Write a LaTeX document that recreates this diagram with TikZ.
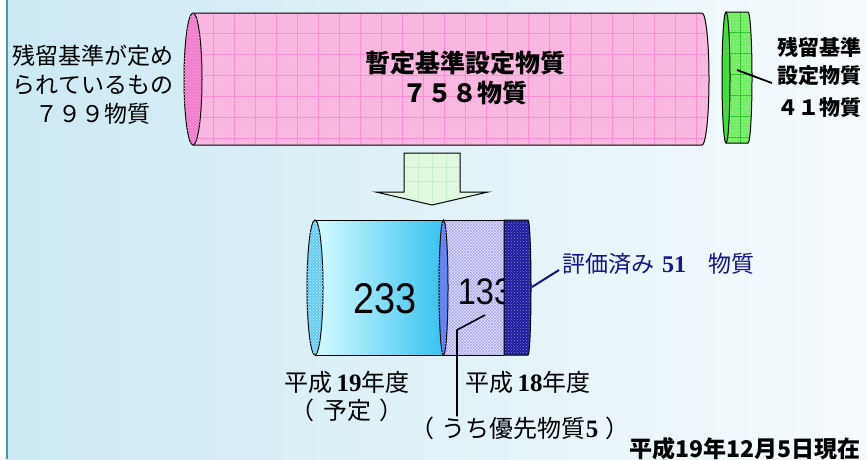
\documentclass[tikz,border=0pt]{standalone}
\usepackage{fontspec}
\usetikzlibrary{patterns}
\newfontfamily\jp{Noto Sans CJK JP}
\newfontfamily\arialf{Liberation Sans}
\newfontfamily\tnr{Liberation Serif}
\definecolor{bgL}{HTML}{CCE9F3}
\definecolor{bgR}{HTML}{F6FBFD}
\definecolor{pinkF}{HTML}{F8B4DE}
\definecolor{pinkG}{HTML}{FF6EC8}
\definecolor{pinkE}{HTML}{F27CCB}
\definecolor{grnF}{HTML}{6CEE5C}
\definecolor{grnG}{HTML}{2DC82D}
\definecolor{grnE}{HTML}{45DD3A}
\definecolor{arrF}{HTML}{DFF8DF}
\definecolor{arrG}{HTML}{C6EEC6}
\definecolor{cyL}{HTML}{D6FBFF}
\definecolor{cyR}{HTML}{38C3F0}
\definecolor{cyE}{HTML}{66CCF2}
\definecolor{blE}{HTML}{5B7DF0}
\definecolor{lavF}{HTML}{EAEAFF}
\definecolor{lavP}{HTML}{A0A0FA}
\definecolor{navF}{HTML}{1C1C9E}
\definecolor{navT}{HTML}{14148C}
\definecolor{edgeC}{HTML}{4A98A6}
\tikzset{
  jpreg/.style={font=\jp\fontsize{23pt}{29pt}\selectfont, align=center, inner sep=0pt},
  jpbold/.style={font=\jp\bfseries\fontsize{25pt}{30pt}\selectfont, align=center, inner sep=0pt},
  jpgreen/.style={font=\jp\bfseries\fontsize{21pt}{28pt}\selectfont, align=center, inner sep=0pt},
  jplbl/.style={font=\jp\fontsize{24pt}{24pt}\selectfont, inner sep=0pt},
  jpblue/.style={font=\jp\fontsize{23pt}{23pt}\selectfont, text=navT, inner sep=0pt},
  jpdate/.style={font=\jp\bfseries\fontsize{23pt}{23pt}\selectfont, inner sep=0pt},
  bignum/.style={font=\arialf\fontsize{#1}{#1}\selectfont, inner sep=0pt},
  outline/.style={draw=black, line width=1pt},
  leader/.style={draw=black, line width=1.6pt},
}
\begin{document}
\begin{tikzpicture}[x=1pt,y=-1pt]
\useasboundingbox (0,0) rectangle (867,459);
\fill[white] (0,0) rectangle (867,459);
\shade[left color=bgL, right color=bgR] (7,0) rectangle (867,459);
\draw[edgeC, line width=2pt] (7,0) -- (7,459);

% ---------- pink cylinder ----------
\path[fill=pinkF, postaction={pattern=crosshatch dots, pattern color=pinkG!35}]
  (193,13) -- (702,13) arc[start angle=90,end angle=-90,x radius=7pt,y radius=66pt] -- (193,145) -- cycle;
\begin{scope}
  \clip (193,13) -- (702,13) arc[start angle=90,end angle=-90,x radius=7pt,y radius=66pt] -- (193,145) -- cycle;
  \foreach \x in {213,234,...,712} \draw[pinkG!80, line width=0.6pt] (\x,13) -- (\x,145);
  \foreach \y in {33,54,...,145} \draw[pinkG!80, line width=0.6pt] (193,\y) -- (712,\y);
\end{scope}
\draw[outline] (193,13) -- (702,13) arc[start angle=90,end angle=-90,x radius=7pt,y radius=66pt] -- (193,145);
\draw[outline, fill=pinkE, postaction={pattern=crosshatch dots, pattern color=pinkF}] (193,79) ellipse[x radius=9pt, y radius=66pt];

% ---------- green disk ----------
\path[fill=grnF, postaction={pattern=crosshatch dots, pattern color=white!60!grnF}]
  (726,12) -- (748,12) arc[start angle=90,end angle=-90,x radius=4pt,y radius=65.5pt] -- (726,143) -- cycle;
\begin{scope}
  \clip (726,12) -- (748,12) arc[start angle=90,end angle=-90,x radius=4pt,y radius=65.5pt] -- (726,143) -- cycle;
  \draw[grnG, line width=0.6pt] (740,12) -- (740,143);
  \foreach \y in {32,53,...,143} \draw[grnG, line width=0.6pt] (722,\y) -- (752,\y);
\end{scope}
\draw[outline] (726,12) -- (748,12) arc[start angle=90,end angle=-90,x radius=4pt,y radius=65.5pt] -- (726,143);
\draw[outline, fill=grnE] (726,77.5) ellipse[x radius=4pt, y radius=65.5pt];

% ---------- arrow ----------
\path[fill=arrF] (404,153) -- (460,153) -- (460,192) -- (488,192) -- (432,205) -- (376,192) -- (404,192) -- cycle;
\begin{scope}
  \clip (404,153) -- (460,153) -- (460,192) -- (488,192) -- (432,205) -- (376,192) -- (404,192) -- cycle;
  \foreach \x in {418,432,446} \draw[arrG, line width=0.5pt] (\x,150) -- (\x,206);
  \foreach \y in {167,181} \draw[arrG, line width=0.5pt] (376,\y) -- (488,\y);
\end{scope}
\draw[outline] (404,153) -- (460,153) -- (460,192) -- (488,192) -- (432,205) -- (376,192) -- (404,192) -- cycle;

% ---------- bottom cylinder ----------
\path[fill=lavF, postaction={pattern=crosshatch, pattern color=lavP}] (443.5,220) rectangle (504,355);
\draw[outline] (443.5,220) -- (504,220) (443.5,355) -- (504,355);
\node[bignum=37pt] (n133) at (485,292) {\scalebox{0.88}[1]{133}};
\path[fill=navF, postaction={pattern=crosshatch dots, pattern color=white!50!navF}]
  (504,220) -- (528,220) arc[start angle=90,end angle=-90,x radius=3pt,y radius=67.5pt] -- (504,355) -- cycle;
\draw[outline] (504,220) -- (528,220) arc[start angle=90,end angle=-90,x radius=3pt,y radius=67.5pt] -- (504,355) -- cycle;
\shade[left color=cyL, right color=cyR] (315,220) rectangle (443.5,355);
\draw[outline] (315,220) -- (443.5,220) (315,355) -- (443.5,355);
\draw[outline, fill=cyE, postaction={pattern=crosshatch dots, pattern color=white!70!cyE}] (315,287.5) ellipse[x radius=8pt, y radius=67.5pt];
\draw[outline, fill=blE, postaction={pattern=crosshatch dots, pattern color=white!40!blE}] (443.5,287.5) ellipse[x radius=4.5pt, y radius=67.5pt];
\node[bignum=43pt] (n233) at (385,299) {\scalebox{0.88}[1]{233}};

% ---------- texts ----------
\node[jpreg] (have) at (93,85) {残留基準が定め\\られているもの\\７９９物質};
\node[jpbold] (zantei) at (465,78) {暫定基準設定物質\\７５８物質};
\node[jpgreen] (zanryu) at (819,77) {残留基準\\設定物質\\[4pt]４１物質};
\node[jplbl] (h19) at (347,382) {平成{\tnr\bfseries\fontsize{25pt}{25pt}\selectfont\,19}年度};
\node[jplbl] (yotei) at (347,410) {（\hspace{0.35em}予定\hspace{0.35em}）};
\node[jplbl] (h18) at (528,382) {平成{\tnr\bfseries\fontsize{25pt}{25pt}\selectfont\,18}年度};
\node[jplbl] (yusen) at (520,428) {（\hspace{0.3em}うち優先物質{\tnr\bfseries\fontsize{25pt}{25pt}\selectfont 5}\hspace{0.3em}）};
\node[jpblue, anchor=west] (hyoka) at (562,264) {評価済み\hspace{8pt}{\tnr\bfseries\fontsize{24pt}{24pt}\selectfont 51}\hspace{22pt}物質};
\node[jpdate] (date) at (745,449) {平成19年12月5日現在};

% ---------- connectors ----------
\coordinate (gdot) at (737,70);
\draw[leader, line width=1.8pt] (gdot) -- ([shift={(-5,6)}]zanryu.west);
\coordinate (c133) at (485,315);
\coordinate (kink) at (457,330);
\draw[leader] (c133) -- (kink) -- (kink |- yusen.north);
\coordinate (c51) at (532,287);
\draw[navT, line width=2pt] (c51) -- ([shift={(-3,6)}]hyoka.west);
\end{tikzpicture}
\end{document}
